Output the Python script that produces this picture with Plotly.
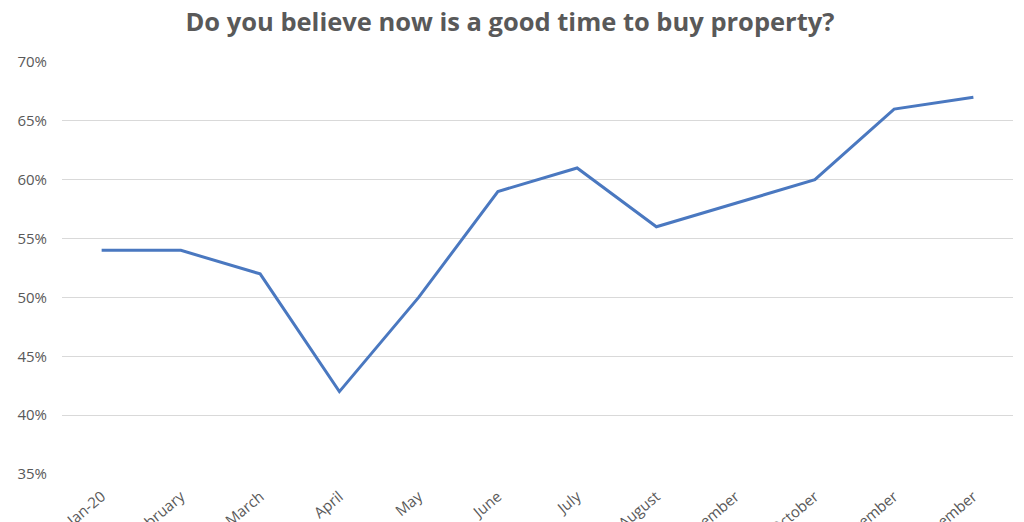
import plotly.graph_objects as go

months = ["Jan-20", "February", "March", "April", "May", "June", "July",
          "August", "September", "October", "November", "December"]
values = [0.54, 0.54, 0.52, 0.42, 0.50, 0.59, 0.61, 0.56, 0.58, 0.60, 0.66, 0.67]
y_ticks = [0.35, 0.40, 0.45, 0.50, 0.55, 0.60, 0.65, 0.70]
y_tick_labels = ["35%", "40%", "45%", "50%", "55%", "60%", "65%", "70%"]

fig = go.Figure()
fig.add_trace(go.Scatter(
    x=months, y=values, mode="lines",
    line=dict(color="#4a78c0", width=3),
    hoverinfo="x+y",
))

fig.update_layout(
    width=1024, height=522,
    margin=dict(l=62, r=11, t=62, b=48),
    paper_bgcolor="white", plot_bgcolor="white",
    showlegend=False,
    title=dict(
        text="<b>Do you believe now is a good time to buy property?</b>",
        x=0.498, xanchor="center", y=0.958, yanchor="middle",
        font=dict(family="'Open Sans', sans-serif", size=25.5, color="#595959"),
    ),
    font=dict(family="'Open Sans', sans-serif", size=15, color="#595959"),
)
fig.update_xaxes(
    type="category", range=[-0.5, 11.5], tickangle=-40, showgrid=False,
    showline=False, zeroline=False, ticks="", automargin=False,
    ticklabelstandoff=10,
    tickfont=dict(size=15, color="#595959"),
)
fig.update_yaxes(
    range=[0.35, 0.70], tickvals=y_ticks, ticktext=y_tick_labels,
    showgrid=True, gridcolor="#d9d9d9", gridwidth=1, zeroline=False,
    showline=False, automargin=False, ticklabelstandoff=14,
    tickfont=dict(size=15, color="#595959"),
)

fig.write_html("out.html")
